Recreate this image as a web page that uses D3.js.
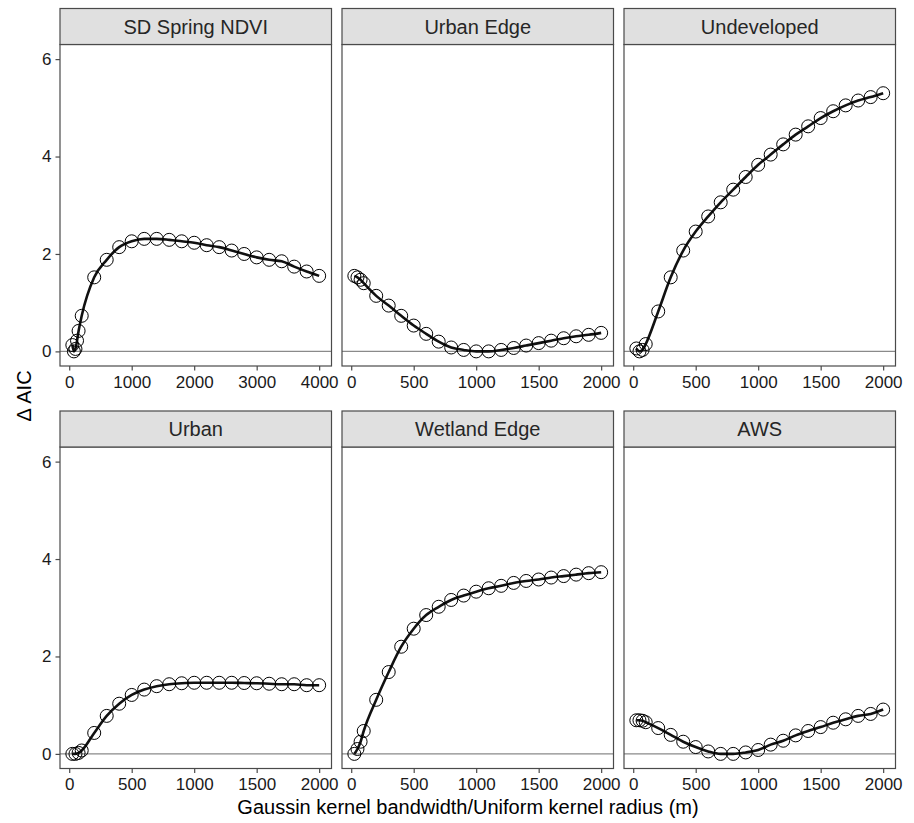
<!DOCTYPE html>
<html>
<head>
<meta charset="utf-8">
<script src="https://cdn.jsdelivr.net/npm/d3@7"></script>
<style>
  body { margin: 0; background: #fff; }
  svg { display: block; font-family: "Liberation Sans", Arial, Helvetica, sans-serif; }
</style>
</head>
<body>
<div id="chart"></div>
<script>
// --- Data ---
const panelNames = ["SD Spring NDVI", "Urban Edge", "Undeveloped", "Urban", "Wetland Edge", "AWS"];

// distances (m)
const xNdvi = [50, 75, 100, 125, 150, 200, 400, 600, 800, 1000, 1200, 1400, 1600, 1800, 2000,
               2200, 2400, 2600, 2800, 3000, 3200, 3400, 3600, 3800, 4000];
const xShort = [25, 50, 75, 100, 200, 300, 400, 500, 600, 700, 800, 900, 1000,
                1100, 1200, 1300, 1400, 1500, 1600, 1700, 1800, 1900, 2000];

// delta AIC per panel
const yNdvi = [0.13, 0.0, 0.05, 0.22, 0.42, 0.73, 1.52, 1.88, 2.14, 2.26, 2.31, 2.31, 2.29, 2.26, 2.23,
               2.18, 2.14, 2.07, 2.0, 1.93, 1.88, 1.85, 1.74, 1.64, 1.55];
const yUrbanEdge = [1.55, 1.52, 1.47, 1.40, 1.14, 0.94, 0.73, 0.53, 0.36, 0.20, 0.08, 0.03, 0.0,
                    0.0, 0.03, 0.07, 0.12, 0.17, 0.22, 0.27, 0.31, 0.34, 0.38];
const yUndeveloped = [0.06, 0.0, 0.03, 0.15, 0.82, 1.52, 2.07, 2.46, 2.77, 3.06, 3.32, 3.58, 3.83,
                      4.04, 4.25, 4.45, 4.62, 4.79, 4.93, 5.05, 5.15, 5.22, 5.30];
const yUrban = [0.0, 0.0, 0.02, 0.07, 0.43, 0.78, 1.03, 1.21, 1.32, 1.39, 1.43, 1.45, 1.46,
                1.46, 1.46, 1.46, 1.455, 1.45, 1.44, 1.43, 1.43, 1.41, 1.41];
const yWetlandEdge = [0.0, 0.1, 0.25, 0.47, 1.11, 1.68, 2.20, 2.57, 2.85, 3.02, 3.16, 3.25, 3.33,
                      3.40, 3.45, 3.51, 3.55, 3.58, 3.62, 3.65, 3.68, 3.71, 3.73];
const yAws = [0.69, 0.69, 0.68, 0.65, 0.53, 0.39, 0.25, 0.14, 0.05, 0.0, 0.0, 0.03, 0.08,
              0.19, 0.27, 0.38, 0.47, 0.55, 0.64, 0.71, 0.78, 0.82, 0.91];

const xTicksNdvi = [0, 1000, 2000, 3000, 4000];
const xTicksShort = [0, 500, 1000, 1500, 2000];
const yTicks = [0, 2, 4, 6];
const yLimits = [0, 6];

const xLabel = "Gaussin kernel bandwidth/Uniform kernel radius (m)";
const yLabel = "\u0394 AIC";

const panels = [
  { name: panelNames[0], xs: xNdvi, ys: yNdvi, ticks: xTicksNdvi },
  { name: panelNames[1], xs: xShort, ys: yUrbanEdge, ticks: xTicksShort },
  { name: panelNames[2], xs: xShort, ys: yUndeveloped, ticks: xTicksShort },
  { name: panelNames[3], xs: xShort, ys: yUrban, ticks: xTicksShort },
  { name: panelNames[4], xs: xShort, ys: yWetlandEdge, ticks: xTicksShort },
  { name: panelNames[5], xs: xShort, ys: yAws, ticks: xTicksShort }
];

// --- Layout ---
const W = 914, H = 823;
const colLeft = [60, 342, 624];
const panelW = 271.5;
const rowStripTop = [8.5, 411];
const stripH = 36;
const panelH = 321.5;
const borderColor = "#4a4a4a";

const svg = d3.select("#chart").append("svg")
  .attr("width", W).attr("height", H);

// expand like ggplot (5% each side)
function expand(lo, hi) {
  const pad = (hi - lo) * 0.05;
  return [lo - pad, hi + pad];
}

panels.forEach((p, i) => {
  const col = i % 3, row = Math.floor(i / 3);
  const left = colLeft[col];
  const stripTop = rowStripTop[row];
  const top = stripTop + stripH;
  const bottom = top + panelH;

  const x = d3.scaleLinear().domain(expand(d3.min(p.xs), d3.max(p.xs))).range([left, left + panelW]);
  const y = d3.scaleLinear().domain(expand(yLimits[0], yLimits[1])).range([bottom, top]);

  const g = svg.append("g");

  // zero reference line
  g.append("line")
    .attr("x1", left).attr("x2", left + panelW)
    .attr("y1", y(0)).attr("y2", y(0))
    .attr("stroke", "#8a8a8a").attr("stroke-width", 1.3);

  const pts = p.xs.map((d, k) => ({ x: d, y: p.ys[k] }));

  const line = d3.line()
    .x(d => x(d.x)).y(d => y(d.y))
    .curve(d3.curveMonotoneX);

  g.append("path")
    .datum(pts)
    .attr("d", line)
    .attr("fill", "none")
    .attr("stroke", "#111")
    .attr("stroke-width", 2.6);

  g.selectAll("circle")
    .data(pts)
    .join("circle")
    .attr("cx", d => x(d.x))
    .attr("cy", d => y(d.y))
    .attr("r", 6.5)
    .attr("fill", "none")
    .attr("stroke", "#000")
    .attr("stroke-width", 1);

  // panel border
  g.append("rect")
    .attr("x", left).attr("y", top)
    .attr("width", panelW).attr("height", panelH)
    .attr("fill", "none").attr("stroke", borderColor).attr("stroke-width", 1.2);

  // strip
  g.append("rect")
    .attr("x", left).attr("y", stripTop)
    .attr("width", panelW).attr("height", stripH)
    .attr("fill", "#e0e0e0").attr("stroke", borderColor).attr("stroke-width", 1.2);
  g.append("text")
    .attr("x", left + panelW / 2).attr("y", stripTop + stripH / 2)
    .attr("dy", "0.36em")
    .attr("text-anchor", "middle")
    .attr("font-size", 20)
    .attr("fill", "#262626")
    .text(p.name);

  // x axis
  const xAxis = d3.axisBottom(x).tickValues(p.ticks).tickFormat(d3.format("d"))
    .tickSize(4.5).tickPadding(5);
  const xg = svg.append("g").attr("transform", `translate(0,${bottom})`).call(xAxis);
  xg.select(".domain").remove();
  xg.selectAll(".tick line").attr("stroke", borderColor).attr("stroke-width", 1.2);
  xg.selectAll(".tick text").attr("font-size", 17).attr("fill", "#1a1a1a")
    .attr("font-family", "Liberation Sans, Arial, sans-serif");

  // y axis only on left column
  if (col === 0) {
    const yAxis = d3.axisLeft(y).tickValues(yTicks).tickFormat(d3.format("d"))
      .tickSize(4.5).tickPadding(4);
    const yg = svg.append("g").attr("transform", `translate(${left},0)`).call(yAxis);
    yg.select(".domain").remove();
    yg.selectAll(".tick line").attr("stroke", borderColor).attr("stroke-width", 1.2);
    yg.selectAll(".tick text").attr("font-size", 17).attr("fill", "#1a1a1a")
      .attr("font-family", "Liberation Sans, Arial, sans-serif");
  }
});

// axis titles
svg.append("text")
  .attr("x", 468).attr("y", 814)
  .attr("text-anchor", "middle")
  .attr("font-size", 20)
  .attr("fill", "#000")
  .text(xLabel);

svg.append("text")
  .attr("transform", "translate(31,396) rotate(-90)")
  .attr("text-anchor", "middle")
  .attr("font-size", 20)
  .attr("fill", "#000")
  .text(yLabel);
</script>
</body>
</html>
